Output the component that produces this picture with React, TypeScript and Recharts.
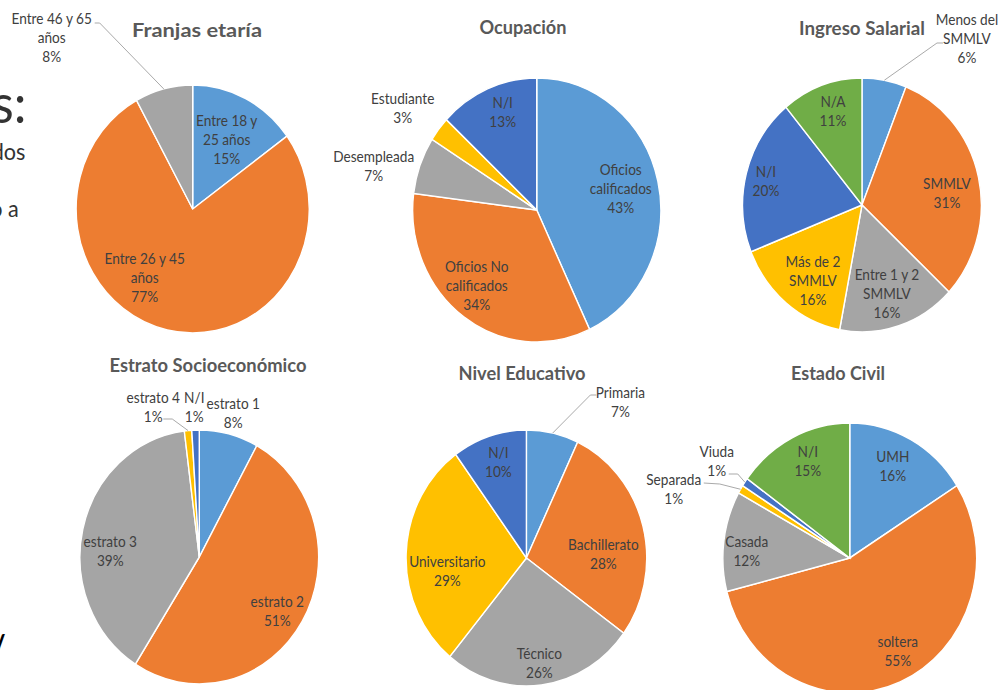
import React from "react";
import { PieChart, Pie, Cell } from "recharts";

// The source screenshot is squashed horizontally; draw in a wider layer and scale it back.
const S = 0.94;
const PAGE_W = 1005;
const PAGE_H = 690;
const BOX = 440;
const LH = 19;

const COLORS = ["#5B9BD5", "#ED7D31", "#A5A5A5", "#FFC000", "#4472C4", "#70AD47"];

// ---- data ----
const edadCats = ["Entre 18 y 25 años", "Entre 26 y 45 años", "Entre 46 y 65 años"];
const edadVals = [15, 77, 8];

const ocupCats = ["Oficios calificados", "Oficios No calificados", "Desempleada", "Estudiante", "N/I"];
const ocupVals = [43, 34, 7, 3, 13];

const ingresoCats = ["Menos del SMMLV", "SMMLV", "Entre 1 y 2 SMMLV", "Más de 2 SMMLV", "N/I", "N/A"];
const ingresoVals = [6, 31, 16, 16, 20, 11];

const estratoCats = ["estrato 1", "estrato 2", "estrato 3", "estrato 4", "N/I"];
const estratoVals = [8, 51, 39, 1, 1];

const educCats = ["Primaria", "Bachillerato", "Técnico", "Universitario", "N/I"];
const educVals = [7, 28, 26, 29, 10];

const civilCats = ["UMH", "soltera", "Casada", "Separada", "Viuda", "N/I"];
const civilVals = [16, 55, 12, 1, 1, 15];

// ---- layout (page pixels, offsets from the pie centre) ----
type Lbl = { lines: string[]; dx: number; dy: number; lead?: number[][] };
type Cfg = {
  title: string;
  tx: number;
  ty: number;
  tw: number;
  cx: number;
  cy: number;
  r: number;
  cats: string[];
  vals: number[];
  labels: Lbl[];
};

const charts: Cfg[] = [
  {
    title: "Franjas etaría", tx: 197, ty: 30, tw: 130, cx: 193, cy: 209, r: 124,
    cats: edadCats, vals: edadVals,
    labels: [
      { lines: ["Entre 18 y", "25 años"], dx: 34, dy: -70 },
      { lines: ["Entre 26 y 45", "años"], dx: -48, dy: 68 },
      { lines: ["Entre 46 y 65", "años"], dx: -141, dy: -172, lead: [[-98, -186], [-93, -186]] },
    ],
  },
  {
    title: "Ocupación", tx: 523, ty: 27, tw: 87, cx: 537, cy: 210, r: 132,
    cats: ocupCats, vals: ocupVals,
    labels: [
      { lines: ["Oficios", "calificados"], dx: 84, dy: -22 },
      { lines: ["Oficios No", "calificados"], dx: -60, dy: 75 },
      { lines: ["Desempleada"], dx: -163, dy: -45 },
      { lines: ["Estudiante"], dx: -134, dy: -103 },
      { lines: ["N/I"], dx: -34, dy: -99 },
    ],
  },
  {
    title: "Ingreso Salarial", tx: 862, ty: 28, tw: 126, cx: 862, cy: 205, r: 127,
    cats: ingresoCats, vals: ingresoVals,
    labels: [
      { lines: ["Menos del", "SMMLV"], dx: 105, dy: -167, lead: [[81, -162], [75, -162]] },
      { lines: ["SMMLV"], dx: 85, dy: -13 },
      { lines: ["Entre 1 y 2", "SMMLV"], dx: 25, dy: 88 },
      { lines: ["Más de 2", "SMMLV"], dx: -49, dy: 75 },
      { lines: ["N/I"], dx: -96, dy: -25 },
      { lines: ["N/A"], dx: -29, dy: -95 },
    ],
  },
  {
    title: "Estrato Socioeconómico", tx: 208, ty: 365, tw: 197, cx: 199, cy: 557, r: 127,
    cats: estratoCats, vals: estratoVals,
    labels: [
      { lines: ["estrato 1"], dx: 34, dy: -145 },
      { lines: ["estrato 2"], dx: 78, dy: 53 },
      { lines: ["estrato 3"], dx: -89, dy: -7 },
      { lines: ["estrato 4"], dx: -46, dy: -151, lead: [[-36, -138], [-27, -138]] },
      { lines: ["N/I"], dx: -5, dy: -151 },
    ],
  },
  {
    title: "Nivel Educativo", tx: 522, ty: 373, tw: 127, cx: 526, cy: 558, r: 128,
    cats: educCats, vals: educVals,
    labels: [
      { lines: ["Primaria"], dx: 94, dy: -157, lead: [[70, -163], [64, -163]] },
      { lines: ["Bachillerato"], dx: 77, dy: -5 },
      { lines: ["Técnico"], dx: 13, dy: 104 },
      { lines: ["Universitario"], dx: -79, dy: 12 },
      { lines: ["N/I"], dx: -28, dy: -97 },
    ],
  },
  {
    title: "Estado Civil", tx: 838, ty: 373, tw: 94, cx: 850, cy: 558, r: 135,
    cats: civilCats, vals: civilVals,
    labels: [
      { lines: ["UMH"], dx: 43, dy: -93 },
      { lines: ["soltera"], dx: 48, dy: 92 },
      { lines: ["Casada"], dx: -103, dy: -8 },
      { lines: ["Separada"], dx: -176, dy: -70, lead: [[-146, -75], [-130, -74]] },
      { lines: ["Viuda"], dx: -133, dy: -98, lead: [[-121, -84], [-112, -84]] },
      { lines: ["N/I"], dx: -42, dy: -98 },
    ],
  },
];

const FONT = "Lato, 'Open Sans', sans-serif";
const RAD = Math.PI / 180;

function makeLabel(cfg: Cfg) {
  return (p: any) => {
    const i = p.index;
    const lb = cfg.labels[i];
    const x = p.cx + lb.dx / S;
    const y = p.cy + lb.dy;
    const lines = [...lb.lines, `${Math.round(p.percent * 100)}%`];
    const y0 = y - ((lines.length - 1) * LH) / 2;
    let leader = null;
    if (lb.lead) {
      const ex = p.cx + p.outerRadius * Math.cos(-p.midAngle * RAD);
      const ey = p.cy + p.outerRadius * Math.sin(-p.midAngle * RAD);
      const pts = lb.lead.map(([a, b]) => `${p.cx + a / S},${p.cy + b}`).join(" ");
      leader = (
        <polyline points={`${pts} ${ex},${ey}`} fill="none" stroke="#A6A6A6" strokeWidth={1} />
      );
    }
    return (
      <g key={`lbl-${i}`}>
        {leader}
        <text
          x={x}
          y={y0}
          textAnchor="middle"
          dominantBaseline="central"
          fill="#404040"
          fontSize={14.5}
          fontFamily={FONT}
        >
          {lines.map((l, k) => (
            <tspan key={k} x={x} dy={k === 0 ? 0 : LH}>
              {l}
            </tspan>
          ))}
        </text>
      </g>
    );
  };
}

function OnePie({ cfg }: { cfg: Cfg }) {
  const data = cfg.cats.map((name, i) => ({ name, value: cfg.vals[i] }));
  return (
    <div
      style={{
        position: "absolute",
        left: cfg.cx / S - BOX / 2,
        top: cfg.cy - BOX / 2,
        width: BOX,
        height: BOX,
      }}
    >
      <PieChart width={BOX} height={BOX} style={{ overflow: "visible" }}>
        <Pie
          data={data}
          dataKey="value"
          nameKey="name"
          cx="50%"
          cy="50%"
          outerRadius={cfg.r}
          startAngle={90}
          endAngle={-270}
          stroke="#FFFFFF"
          strokeWidth={1.5}
          label={makeLabel(cfg)}
          labelLine={false}
          isAnimationActive={false}
        >
          {data.map((d, i) => (
            <Cell key={d.name} fill={COLORS[i % COLORS.length]} />
          ))}
        </Pie>
      </PieChart>
    </div>
  );
}

export default function App() {
  const W = PAGE_W / S;
  return (
    <div
      style={{
        position: "fixed",
        left: 0,
        top: 0,
        width: PAGE_W,
        height: PAGE_H,
        overflow: "hidden",
        background: "#FFFFFF",
      }}
    >
      <div
        style={{
          position: "absolute",
          left: 0,
          top: 0,
          width: W,
          height: PAGE_H,
          transform: `scaleX(${S})`,
          transformOrigin: "0 0",
        }}
      >
        {/* leftovers of the slide behind the charts */}
        <svg width={W} height={PAGE_H} style={{ position: "absolute", left: 0, top: 0 }}>
          <g fontFamily={FONT} fill="#333333" textAnchor="end">
            <text x={28} y={123} fontSize={54} fontWeight={400}>s:</text>
            <text x={27} y={160} fontSize={23} fontWeight={400}>dos</text>
            <text x={20} y={217} fontSize={23} fontWeight={400}>o a</text>
            <text x={6} y={654} fontSize={26} fontWeight={900} fill="#000">/</text>
          </g>
          {charts.map((c) => (
            <text
              key={c.title}
              x={c.tx / S}
              y={c.ty}
              textAnchor="middle"
              dominantBaseline="central"
              fontFamily={FONT}
              fontSize={19}
              fontWeight={700}
              fill="#595959"
              textLength={c.tw / S}
              lengthAdjust="spacingAndGlyphs"
            >
              {c.title}
            </text>
          ))}
        </svg>
        {charts.map((c) => (
          <OnePie key={c.title} cfg={c} />
        ))}
      </div>
    </div>
  );
}
